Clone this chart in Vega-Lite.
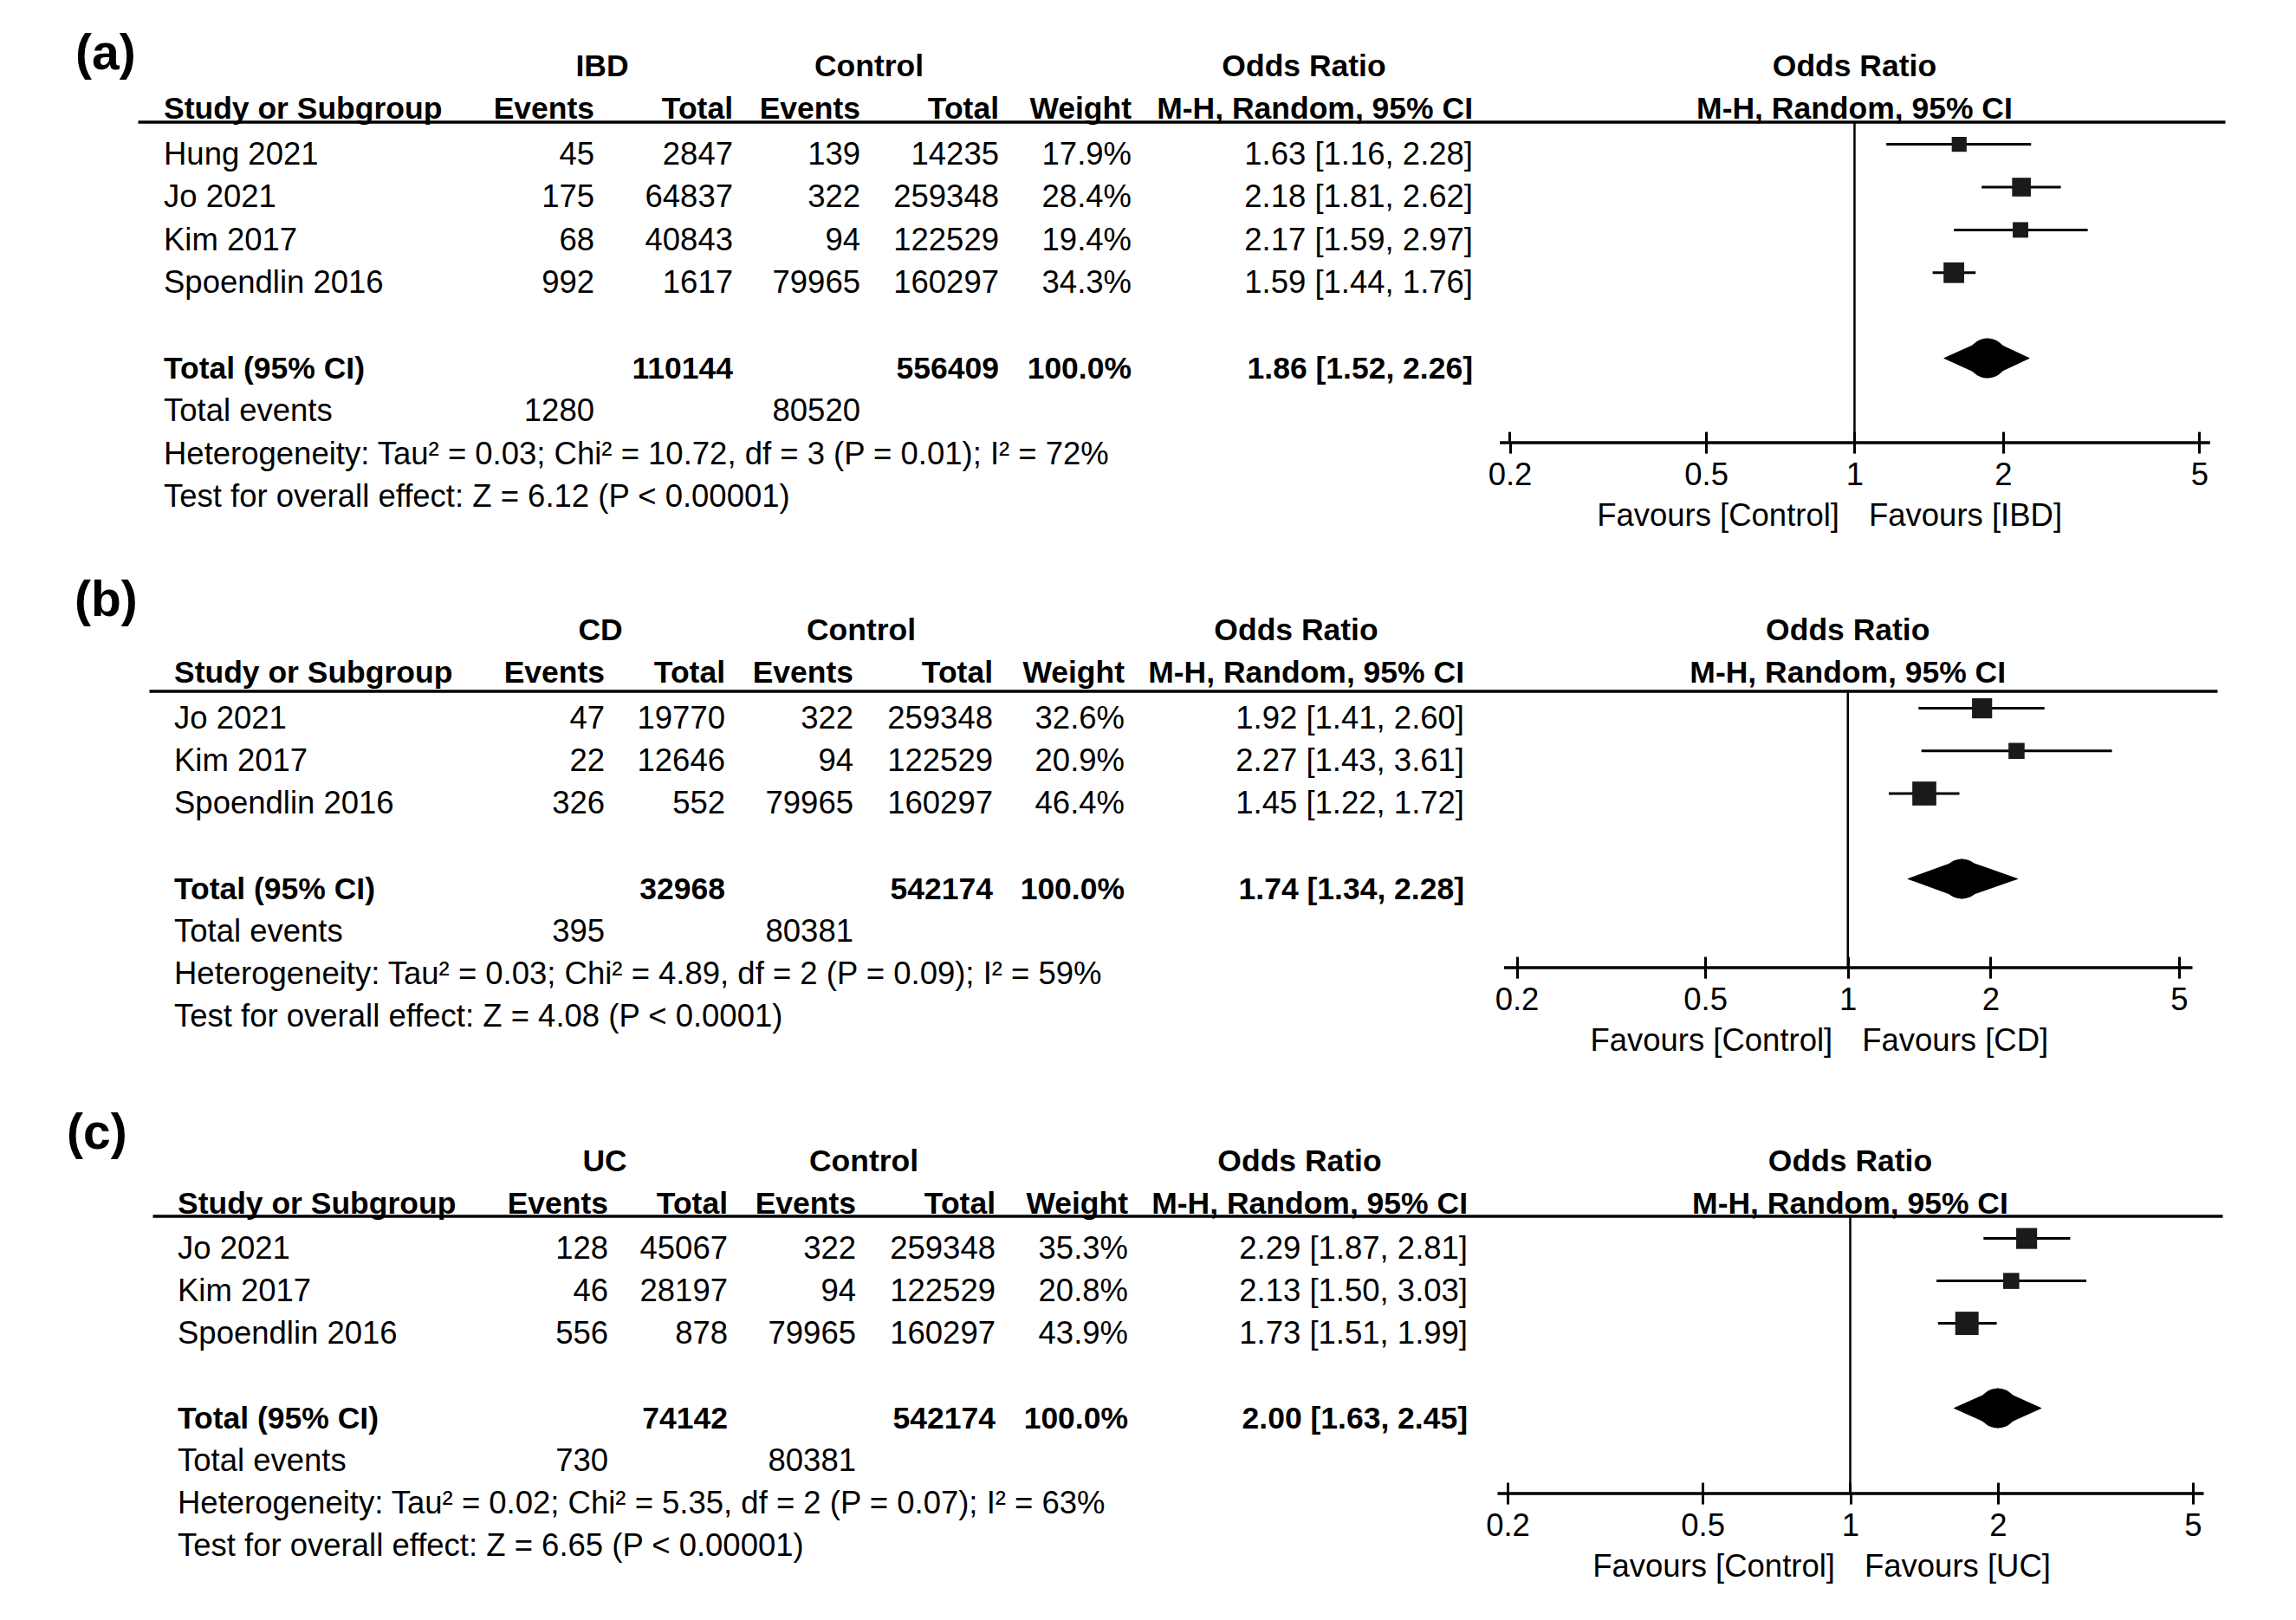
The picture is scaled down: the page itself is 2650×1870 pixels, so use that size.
{
"$schema":"https://vega.github.io/schema/vega-lite/v6.json",
"background":"white",
"padding":{"left":77,"top":33.6,"right":10,"bottom":10},
"autosize":{"type":"pad"},
"spacing":287,
"bounds":"flush",
"config":{"view":{"stroke":null},"mark":{"color":"black"},"text":{"font":"Liberation Sans","fontSize":36.5,"color":"black"},"axis":{"labelFont":"Liberation Sans","titleFont":"Liberation Sans","labelFontSize":36.5,"titleFontSize":36.5,"labelColor":"black","titleColor":"black","titleFontWeight":"normal"}},
"datasets":{
"studies":[
{"panel":"(a)","study":"Hung 2021","e1":45,"n1":2847,"e2":139,"n2":14235,"w":0.179,"ci":"1.63 [1.16, 2.28]","or":1.63,"lo":1.16,"hi":2.28},
{"panel":"(a)","study":"Jo 2021","e1":175,"n1":64837,"e2":322,"n2":259348,"w":0.284,"ci":"2.18 [1.81, 2.62]","or":2.18,"lo":1.81,"hi":2.62},
{"panel":"(a)","study":"Kim 2017","e1":68,"n1":40843,"e2":94,"n2":122529,"w":0.194,"ci":"2.17 [1.59, 2.97]","or":2.17,"lo":1.59,"hi":2.97},
{"panel":"(a)","study":"Spoendlin 2016","e1":992,"n1":1617,"e2":79965,"n2":160297,"w":0.343,"ci":"1.59 [1.44, 1.76]","or":1.59,"lo":1.44,"hi":1.76},
{"panel":"(b)","study":"Jo 2021","e1":47,"n1":19770,"e2":322,"n2":259348,"w":0.326,"ci":"1.92 [1.41, 2.60]","or":1.92,"lo":1.41,"hi":2.60},
{"panel":"(b)","study":"Kim 2017","e1":22,"n1":12646,"e2":94,"n2":122529,"w":0.209,"ci":"2.27 [1.43, 3.61]","or":2.27,"lo":1.43,"hi":3.61},
{"panel":"(b)","study":"Spoendlin 2016","e1":326,"n1":552,"e2":79965,"n2":160297,"w":0.464,"ci":"1.45 [1.22, 1.72]","or":1.45,"lo":1.22,"hi":1.72},
{"panel":"(c)","study":"Jo 2021","e1":128,"n1":45067,"e2":322,"n2":259348,"w":0.353,"ci":"2.29 [1.87, 2.81]","or":2.29,"lo":1.87,"hi":2.81},
{"panel":"(c)","study":"Kim 2017","e1":46,"n1":28197,"e2":94,"n2":122529,"w":0.208,"ci":"2.13 [1.50, 3.03]","or":2.13,"lo":1.50,"hi":3.03},
{"panel":"(c)","study":"Spoendlin 2016","e1":556,"n1":878,"e2":79965,"n2":160297,"w":0.439,"ci":"1.73 [1.51, 1.99]","or":1.73,"lo":1.51,"hi":1.99}
],
"totals":[
{"panel":"(a)","group":"IBD","n1":110144,"n2":556409,"w":1.0,"ci":"1.86 [1.52, 2.26]","or":1.86,"lo":1.52,"hi":2.26,"te1":1280,"te2":80520,"het":"Heterogeneity: Tau² = 0.03; Chi² = 10.72, df = 3 (P = 0.01); I² = 72%","test":"Test for overall effect: Z = 6.12 (P < 0.00001)"},
{"panel":"(b)","group":"CD","n1":32968,"n2":542174,"w":1.0,"ci":"1.74 [1.34, 2.28]","or":1.74,"lo":1.34,"hi":2.28,"te1":395,"te2":80381,"het":"Heterogeneity: Tau² = 0.03; Chi² = 4.89, df = 2 (P = 0.09); I² = 59%","test":"Test for overall effect: Z = 4.08 (P < 0.0001)"},
{"panel":"(c)","group":"UC","n1":74142,"n2":542174,"w":1.0,"ci":"2.00 [1.63, 2.45]","or":2.00,"lo":1.63,"hi":2.45,"te1":730,"te2":80381,"het":"Heterogeneity: Tau² = 0.02; Chi² = 5.35, df = 2 (P = 0.07); I² = 63%","test":"Test for overall effect: Z = 6.65 (P < 0.00001)"}
]
},
"vconcat":[
{
"width":2409,"height":370,
"data":{"name":"totals"},
"transform":[{"filter":"datum.panel === '(a)'"}],
"resolve":{"scale":{"x":"independent"}},
"layer":[
{"layer":[
{"mark":{"type":"text","align":"left","fontWeight":"bold","fontSize":57,"dy":-4.8},"encoding":{"x":{"datum":87,"type":"quantitative","scale":{"domain":[159,2568],"range":[0,2409],"nice":false,"zero":false},"axis":{"orient":"top","domain":true,"domainWidth":3.5,"domainColor":"black","ticks":false,"labels":false,"grid":false,"title":null}},"y":{"datum":"group","type":"nominal","axis":null},"text":{"field":"panel"}}},
{"mark":{"type":"text","align":"center","fontWeight":"bold","fontSize":35.5,"dy":9},"encoding":{"x":{"datum":695,"type":"quantitative"},"y":{"datum":"group","type":"nominal","axis":null},"text":{"field":"group"}}},
{"mark":{"type":"text","align":"center","fontWeight":"bold","fontSize":35.5,"dy":9},"encoding":{"x":{"datum":1003,"type":"quantitative"},"y":{"datum":"group","type":"nominal","axis":null},"text":{"value":"Control"}}},
{"mark":{"type":"text","align":"center","fontWeight":"bold","fontSize":35.5,"dy":9},"encoding":{"x":{"datum":1505,"type":"quantitative"},"y":{"datum":"group","type":"nominal","axis":null},"text":{"value":"Odds Ratio"}}},
{"mark":{"type":"text","align":"left","fontWeight":"bold","fontSize":35.5,"dy":9},"encoding":{"x":{"datum":189,"type":"quantitative"},"y":{"datum":"columns","type":"nominal","axis":null},"text":{"value":"Study or Subgroup"}}},
{"mark":{"type":"text","align":"right","fontWeight":"bold","fontSize":35.5,"dy":9},"encoding":{"x":{"datum":686,"type":"quantitative"},"y":{"datum":"columns","type":"nominal","axis":null},"text":{"value":"Events"}}},
{"mark":{"type":"text","align":"right","fontWeight":"bold","fontSize":35.5,"dy":9},"encoding":{"x":{"datum":846,"type":"quantitative"},"y":{"datum":"columns","type":"nominal","axis":null},"text":{"value":"Total"}}},
{"mark":{"type":"text","align":"right","fontWeight":"bold","fontSize":35.5,"dy":9},"encoding":{"x":{"datum":993,"type":"quantitative"},"y":{"datum":"columns","type":"nominal","axis":null},"text":{"value":"Events"}}},
{"mark":{"type":"text","align":"right","fontWeight":"bold","fontSize":35.5,"dy":9},"encoding":{"x":{"datum":1153,"type":"quantitative"},"y":{"datum":"columns","type":"nominal","axis":null},"text":{"value":"Total"}}},
{"mark":{"type":"text","align":"right","fontWeight":"bold","fontSize":35.5,"dy":9},"encoding":{"x":{"datum":1306,"type":"quantitative"},"y":{"datum":"columns","type":"nominal","axis":null},"text":{"value":"Weight"}}},
{"mark":{"type":"text","align":"right","fontWeight":"bold","fontSize":35.5,"dy":9},"encoding":{"x":{"datum":1700,"type":"quantitative"},"y":{"datum":"columns","type":"nominal","axis":null},"text":{"value":"M-H, Random, 95% CI"}}},
{"data":{"name":"studies"},"transform":[{"filter":"datum.panel === '(a)'"}],"layer":[
{"mark":{"type":"text","align":"left","dy":12.5},"encoding":{"x":{"datum":189,"type":"quantitative"},"y":{"field":"study","type":"nominal","scale":{"type":"point","domain":["group","columns","Hung 2021","Jo 2021","Kim 2017","Spoendlin 2016","blank","Total (95% CI)","Total events","Heterogeneity","Test"],"range":[-72.8,421.2],"padding":0},"axis":null},"text":{"field":"study"}}},
{"mark":{"type":"text","align":"right","dy":12.5},"encoding":{"x":{"datum":686,"type":"quantitative"},"y":{"field":"study","type":"nominal","axis":null},"text":{"field":"e1","type":"quantitative","format":"d"}}},
{"mark":{"type":"text","align":"right","dy":12.5},"encoding":{"x":{"datum":846,"type":"quantitative"},"y":{"field":"study","type":"nominal","axis":null},"text":{"field":"n1","type":"quantitative","format":"d"}}},
{"mark":{"type":"text","align":"right","dy":12.5},"encoding":{"x":{"datum":993,"type":"quantitative"},"y":{"field":"study","type":"nominal","axis":null},"text":{"field":"e2","type":"quantitative","format":"d"}}},
{"mark":{"type":"text","align":"right","dy":12.5},"encoding":{"x":{"datum":1153,"type":"quantitative"},"y":{"field":"study","type":"nominal","axis":null},"text":{"field":"n2","type":"quantitative","format":"d"}}},
{"mark":{"type":"text","align":"right","dy":12.5},"encoding":{"x":{"datum":1306,"type":"quantitative"},"y":{"field":"study","type":"nominal","axis":null},"text":{"field":"w","type":"quantitative","format":".1%"}}},
{"mark":{"type":"text","align":"right","dy":12.5},"encoding":{"x":{"datum":1700,"type":"quantitative"},"y":{"field":"study","type":"nominal","axis":null},"text":{"field":"ci"}}}
]},
{"mark":{"type":"text","align":"left","fontWeight":"bold","fontSize":35.5,"dy":12.5},"encoding":{"x":{"datum":189,"type":"quantitative"},"y":{"datum":"Total (95% CI)","type":"nominal","axis":null},"text":{"value":"Total (95% CI)"}}},
{"mark":{"type":"text","align":"right","fontWeight":"bold","fontSize":35.5,"dy":12.5},"encoding":{"x":{"datum":846,"type":"quantitative"},"y":{"datum":"Total (95% CI)","type":"nominal","axis":null},"text":{"field":"n1","type":"quantitative","format":"d"}}},
{"mark":{"type":"text","align":"right","fontWeight":"bold","fontSize":35.5,"dy":12.5},"encoding":{"x":{"datum":1153,"type":"quantitative"},"y":{"datum":"Total (95% CI)","type":"nominal","axis":null},"text":{"field":"n2","type":"quantitative","format":"d"}}},
{"mark":{"type":"text","align":"right","fontWeight":"bold","fontSize":35.5,"dy":12.5},"encoding":{"x":{"datum":1306,"type":"quantitative"},"y":{"datum":"Total (95% CI)","type":"nominal","axis":null},"text":{"field":"w","type":"quantitative","format":".1%"}}},
{"mark":{"type":"text","align":"right","fontWeight":"bold","fontSize":35.5,"dy":12.5},"encoding":{"x":{"datum":1700,"type":"quantitative"},"y":{"datum":"Total (95% CI)","type":"nominal","axis":null},"text":{"field":"ci"}}},
{"mark":{"type":"text","align":"left","dy":12.5},"encoding":{"x":{"datum":189,"type":"quantitative"},"y":{"datum":"Total events","type":"nominal","axis":null},"text":{"value":"Total events"}}},
{"mark":{"type":"text","align":"right","dy":12.5},"encoding":{"x":{"datum":686,"type":"quantitative"},"y":{"datum":"Total events","type":"nominal","axis":null},"text":{"field":"te1","type":"quantitative","format":"d"}}},
{"mark":{"type":"text","align":"right","dy":12.5},"encoding":{"x":{"datum":993,"type":"quantitative"},"y":{"datum":"Total events","type":"nominal","axis":null},"text":{"field":"te2","type":"quantitative","format":"d"}}},
{"mark":{"type":"text","align":"left","dy":12.5},"encoding":{"x":{"datum":189,"type":"quantitative"},"y":{"datum":"Heterogeneity","type":"nominal","axis":null},"text":{"field":"het"}}},
{"mark":{"type":"text","align":"left","dy":12.5},"encoding":{"x":{"datum":189,"type":"quantitative"},"y":{"datum":"Test","type":"nominal","axis":null},"text":{"field":"test"}}}
]},
{"resolve":{"scale":{"size":"independent"}},"layer":[
{"mark":{"type":"text","align":"center","fontWeight":"bold","fontSize":35.5,"dy":9},"encoding":{"x":{"datum":1,"type":"quantitative","scale":{"type":"log","domain":[0.2,5],"range":[1583.5,2379.4],"nice":false},"axis":{"orient":"bottom","values":[0.2,0.5,1,2,5],"format":"~g","domain":false,"ticks":true,"tickSize":12.5,"tickWidth":3,"tickColor":"black","labels":true,"labelPadding":25.5,"labelBaseline":"middle","labelFlush":false,"labelOverlap":false,"labelBound":false,"grid":false,"title":"Favours [Control]","titleX":1963.5,"titleAlign":"right","titleBaseline":"middle","titleY":85}},"y":{"datum":"group","type":"nominal","axis":null},"text":{"value":"Odds Ratio"}}},
{"mark":{"type":"text","align":"center","fontWeight":"bold","fontSize":35.5,"dy":9},"encoding":{"x":{"datum":1,"type":"quantitative"},"y":{"datum":"columns","type":"nominal","axis":null},"text":{"value":"M-H, Random, 95% CI"}}},
{"data":{"name":"studies"},"transform":[{"filter":"datum.panel === '(a)'"}],"layer":[
{"mark":{"type":"rule","strokeWidth":3,"color":"black"},"encoding":{"x":{"field":"lo","type":"quantitative"},"x2":{"field":"hi"},"y":{"field":"study","type":"nominal","axis":null}}},
{"mark":{"type":"point","shape":"square","filled":true,"color":"#1a1a1a","opacity":1},"encoding":{"x":{"field":"or","type":"quantitative"},"y":{"field":"study","type":"nominal","axis":null},"size":{"field":"w","type":"quantitative","scale":{"domain":[0,1],"range":[0,1650],"zero":true},"legend":null}}}
]},
{"transform":[{"fold":["lo","or"],"as":["k","v"]}],"mark":{"type":"trail","color":"black"},"encoding":{"x":{"field":"v","type":"quantitative"},"y":{"datum":"Total (95% CI)","type":"nominal","axis":null},"size":{"field":"k","type":"ordinal","scale":{"type":"point","domain":["lo","or"],"range":[0,46],"padding":0},"legend":null}}},
{"transform":[{"fold":["hi","or"],"as":["k","v"]}],"mark":{"type":"trail","color":"black"},"encoding":{"x":{"field":"v","type":"quantitative"},"y":{"datum":"Total (95% CI)","type":"nominal","axis":null},"size":{"field":"k","type":"ordinal","scale":{"type":"point","domain":["hi","or"],"range":[0,46],"padding":0},"legend":null}}}
]},
{"mark":{"type":"rule","strokeWidth":2.5,"color":"black"},"encoding":{"x":{"datum":1,"type":"quantitative","scale":{"type":"log","domain":[0.190527,5.2486],"range":[1571.5,2391.4],"nice":false},"axis":{"orient":"bottom","values":[0.2,0.5,1,2,5],"domain":true,"domainWidth":3.5,"domainColor":"black","ticks":true,"tickSize":-12.5,"tickWidth":3,"tickColor":"black","labels":false,"grid":false,"title":"Favours [IBD]","titleX":1997.5,"titleAlign":"left","titleBaseline":"middle","titleY":85}}}}
]
},
{
"width":2409,"height":319,
"data":{"name":"totals"},
"transform":[{"filter":"datum.panel === '(b)'"}],
"resolve":{"scale":{"x":"independent"}},
"layer":[
{"layer":[
{"mark":{"type":"text","align":"left","fontWeight":"bold","fontSize":57,"dy":-25.1},"encoding":{"x":{"datum":86,"type":"quantitative","scale":{"domain":[172,2559],"range":[13,2400],"nice":false,"zero":false},"axis":{"orient":"top","domain":true,"domainWidth":3.5,"domainColor":"black","ticks":false,"labels":false,"grid":false,"title":null}},"y":{"datum":"group","type":"nominal","axis":null},"text":{"field":"panel"}}},
{"mark":{"type":"text","align":"center","fontWeight":"bold","fontSize":35.5,"dy":9},"encoding":{"x":{"datum":693,"type":"quantitative"},"y":{"datum":"group","type":"nominal","axis":null},"text":{"field":"group"}}},
{"mark":{"type":"text","align":"center","fontWeight":"bold","fontSize":35.5,"dy":9},"encoding":{"x":{"datum":994,"type":"quantitative"},"y":{"datum":"group","type":"nominal","axis":null},"text":{"value":"Control"}}},
{"mark":{"type":"text","align":"center","fontWeight":"bold","fontSize":35.5,"dy":9},"encoding":{"x":{"datum":1496,"type":"quantitative"},"y":{"datum":"group","type":"nominal","axis":null},"text":{"value":"Odds Ratio"}}},
{"mark":{"type":"text","align":"left","fontWeight":"bold","fontSize":35.5,"dy":9},"encoding":{"x":{"datum":201,"type":"quantitative"},"y":{"datum":"columns","type":"nominal","axis":null},"text":{"value":"Study or Subgroup"}}},
{"mark":{"type":"text","align":"right","fontWeight":"bold","fontSize":35.5,"dy":9},"encoding":{"x":{"datum":698,"type":"quantitative"},"y":{"datum":"columns","type":"nominal","axis":null},"text":{"value":"Events"}}},
{"mark":{"type":"text","align":"right","fontWeight":"bold","fontSize":35.5,"dy":9},"encoding":{"x":{"datum":837,"type":"quantitative"},"y":{"datum":"columns","type":"nominal","axis":null},"text":{"value":"Total"}}},
{"mark":{"type":"text","align":"right","fontWeight":"bold","fontSize":35.5,"dy":9},"encoding":{"x":{"datum":985,"type":"quantitative"},"y":{"datum":"columns","type":"nominal","axis":null},"text":{"value":"Events"}}},
{"mark":{"type":"text","align":"right","fontWeight":"bold","fontSize":35.5,"dy":9},"encoding":{"x":{"datum":1146,"type":"quantitative"},"y":{"datum":"columns","type":"nominal","axis":null},"text":{"value":"Total"}}},
{"mark":{"type":"text","align":"right","fontWeight":"bold","fontSize":35.5,"dy":9},"encoding":{"x":{"datum":1298,"type":"quantitative"},"y":{"datum":"columns","type":"nominal","axis":null},"text":{"value":"Weight"}}},
{"mark":{"type":"text","align":"right","fontWeight":"bold","fontSize":35.5,"dy":9},"encoding":{"x":{"datum":1690,"type":"quantitative"},"y":{"datum":"columns","type":"nominal","axis":null},"text":{"value":"M-H, Random, 95% CI"}}},
{"data":{"name":"studies"},"transform":[{"filter":"datum.panel === '(b)'"}],"layer":[
{"mark":{"type":"text","align":"left","dy":12.5},"encoding":{"x":{"datum":201,"type":"quantitative"},"y":{"field":"study","type":"nominal","scale":{"type":"point","domain":["group","columns","Jo 2021","Kim 2017","Spoendlin 2016","blank","Total (95% CI)","Total events","Heterogeneity","Test"],"range":[-78.4,364.4],"padding":0},"axis":null},"text":{"field":"study"}}},
{"mark":{"type":"text","align":"right","dy":12.5},"encoding":{"x":{"datum":698,"type":"quantitative"},"y":{"field":"study","type":"nominal","axis":null},"text":{"field":"e1","type":"quantitative","format":"d"}}},
{"mark":{"type":"text","align":"right","dy":12.5},"encoding":{"x":{"datum":837,"type":"quantitative"},"y":{"field":"study","type":"nominal","axis":null},"text":{"field":"n1","type":"quantitative","format":"d"}}},
{"mark":{"type":"text","align":"right","dy":12.5},"encoding":{"x":{"datum":985,"type":"quantitative"},"y":{"field":"study","type":"nominal","axis":null},"text":{"field":"e2","type":"quantitative","format":"d"}}},
{"mark":{"type":"text","align":"right","dy":12.5},"encoding":{"x":{"datum":1146,"type":"quantitative"},"y":{"field":"study","type":"nominal","axis":null},"text":{"field":"n2","type":"quantitative","format":"d"}}},
{"mark":{"type":"text","align":"right","dy":12.5},"encoding":{"x":{"datum":1298,"type":"quantitative"},"y":{"field":"study","type":"nominal","axis":null},"text":{"field":"w","type":"quantitative","format":".1%"}}},
{"mark":{"type":"text","align":"right","dy":12.5},"encoding":{"x":{"datum":1690,"type":"quantitative"},"y":{"field":"study","type":"nominal","axis":null},"text":{"field":"ci"}}}
]},
{"mark":{"type":"text","align":"left","fontWeight":"bold","fontSize":35.5,"dy":12.5},"encoding":{"x":{"datum":201,"type":"quantitative"},"y":{"datum":"Total (95% CI)","type":"nominal","axis":null},"text":{"value":"Total (95% CI)"}}},
{"mark":{"type":"text","align":"right","fontWeight":"bold","fontSize":35.5,"dy":12.5},"encoding":{"x":{"datum":837,"type":"quantitative"},"y":{"datum":"Total (95% CI)","type":"nominal","axis":null},"text":{"field":"n1","type":"quantitative","format":"d"}}},
{"mark":{"type":"text","align":"right","fontWeight":"bold","fontSize":35.5,"dy":12.5},"encoding":{"x":{"datum":1146,"type":"quantitative"},"y":{"datum":"Total (95% CI)","type":"nominal","axis":null},"text":{"field":"n2","type":"quantitative","format":"d"}}},
{"mark":{"type":"text","align":"right","fontWeight":"bold","fontSize":35.5,"dy":12.5},"encoding":{"x":{"datum":1298,"type":"quantitative"},"y":{"datum":"Total (95% CI)","type":"nominal","axis":null},"text":{"field":"w","type":"quantitative","format":".1%"}}},
{"mark":{"type":"text","align":"right","fontWeight":"bold","fontSize":35.5,"dy":12.5},"encoding":{"x":{"datum":1690,"type":"quantitative"},"y":{"datum":"Total (95% CI)","type":"nominal","axis":null},"text":{"field":"ci"}}},
{"mark":{"type":"text","align":"left","dy":12.5},"encoding":{"x":{"datum":201,"type":"quantitative"},"y":{"datum":"Total events","type":"nominal","axis":null},"text":{"value":"Total events"}}},
{"mark":{"type":"text","align":"right","dy":12.5},"encoding":{"x":{"datum":698,"type":"quantitative"},"y":{"datum":"Total events","type":"nominal","axis":null},"text":{"field":"te1","type":"quantitative","format":"d"}}},
{"mark":{"type":"text","align":"right","dy":12.5},"encoding":{"x":{"datum":985,"type":"quantitative"},"y":{"datum":"Total events","type":"nominal","axis":null},"text":{"field":"te2","type":"quantitative","format":"d"}}},
{"mark":{"type":"text","align":"left","dy":12.5},"encoding":{"x":{"datum":201,"type":"quantitative"},"y":{"datum":"Heterogeneity","type":"nominal","axis":null},"text":{"field":"het"}}},
{"mark":{"type":"text","align":"left","dy":12.5},"encoding":{"x":{"datum":201,"type":"quantitative"},"y":{"datum":"Test","type":"nominal","axis":null},"text":{"field":"test"}}}
]},
{"resolve":{"scale":{"size":"independent"}},"layer":[
{"mark":{"type":"text","align":"center","fontWeight":"bold","fontSize":35.5,"dy":9},"encoding":{"x":{"datum":1,"type":"quantitative","scale":{"type":"log","domain":[0.2,5],"range":[1591.5,2356],"nice":false},"axis":{"orient":"bottom","values":[0.2,0.5,1,2,5],"format":"~g","domain":false,"ticks":true,"tickSize":12.5,"tickWidth":3,"tickColor":"black","labels":true,"labelPadding":25.5,"labelBaseline":"middle","labelFlush":false,"labelOverlap":false,"labelBound":false,"grid":false,"title":"Favours [Control]","titleX":1955.75,"titleAlign":"right","titleBaseline":"middle","titleY":85}},"y":{"datum":"group","type":"nominal","axis":null},"text":{"value":"Odds Ratio"}}},
{"mark":{"type":"text","align":"center","fontWeight":"bold","fontSize":35.5,"dy":9},"encoding":{"x":{"datum":1,"type":"quantitative"},"y":{"datum":"columns","type":"nominal","axis":null},"text":{"value":"M-H, Random, 95% CI"}}},
{"data":{"name":"studies"},"transform":[{"filter":"datum.panel === '(b)'"}],"layer":[
{"mark":{"type":"rule","strokeWidth":3,"color":"black"},"encoding":{"x":{"field":"lo","type":"quantitative"},"x2":{"field":"hi"},"y":{"field":"study","type":"nominal","axis":null}}},
{"mark":{"type":"point","shape":"square","filled":true,"color":"#1a1a1a","opacity":1},"encoding":{"x":{"field":"or","type":"quantitative"},"y":{"field":"study","type":"nominal","axis":null},"size":{"field":"w","type":"quantitative","scale":{"domain":[0,1],"range":[0,1650],"zero":true},"legend":null}}}
]},
{"transform":[{"fold":["lo","or"],"as":["k","v"]}],"mark":{"type":"trail","color":"black"},"encoding":{"x":{"field":"v","type":"quantitative"},"y":{"datum":"Total (95% CI)","type":"nominal","axis":null},"size":{"field":"k","type":"ordinal","scale":{"type":"point","domain":["lo","or"],"range":[0,46],"padding":0},"legend":null}}},
{"transform":[{"fold":["hi","or"],"as":["k","v"]}],"mark":{"type":"trail","color":"black"},"encoding":{"x":{"field":"v","type":"quantitative"},"y":{"datum":"Total (95% CI)","type":"nominal","axis":null},"size":{"field":"k","type":"ordinal","scale":{"type":"point","domain":["hi","or"],"range":[0,46],"padding":0},"legend":null}}}
]},
{"mark":{"type":"rule","strokeWidth":2.5,"color":"black"},"encoding":{"x":{"datum":1,"type":"quantitative","scale":{"type":"log","domain":[0.187758,5.326],"range":[1576.5,2371],"nice":false},"axis":{"orient":"bottom","values":[0.2,0.5,1,2,5],"domain":true,"domainWidth":3.5,"domainColor":"black","ticks":true,"tickSize":-12.5,"tickWidth":3,"tickColor":"black","labels":false,"grid":false,"title":"Favours [CD]","titleX":1989.75,"titleAlign":"left","titleBaseline":"middle","titleY":85}}}}
]
},
{
"width":2409,"height":320,
"data":{"name":"totals"},
"transform":[{"filter":"datum.panel === '(c)'"}],
"resolve":{"scale":{"x":"independent"}},
"layer":[
{"layer":[
{"mark":{"type":"text","align":"left","fontWeight":"bold","fontSize":57,"dy":-22.8},"encoding":{"x":{"datum":77,"type":"quantitative","scale":{"domain":[176,2565],"range":[17,2406],"nice":false,"zero":false},"axis":{"orient":"top","domain":true,"domainWidth":3.5,"domainColor":"black","ticks":false,"labels":false,"grid":false,"title":null}},"y":{"datum":"group","type":"nominal","axis":null},"text":{"field":"panel"}}},
{"mark":{"type":"text","align":"center","fontWeight":"bold","fontSize":35.5,"dy":9},"encoding":{"x":{"datum":698,"type":"quantitative"},"y":{"datum":"group","type":"nominal","axis":null},"text":{"field":"group"}}},
{"mark":{"type":"text","align":"center","fontWeight":"bold","fontSize":35.5,"dy":9},"encoding":{"x":{"datum":997,"type":"quantitative"},"y":{"datum":"group","type":"nominal","axis":null},"text":{"value":"Control"}}},
{"mark":{"type":"text","align":"center","fontWeight":"bold","fontSize":35.5,"dy":9},"encoding":{"x":{"datum":1500,"type":"quantitative"},"y":{"datum":"group","type":"nominal","axis":null},"text":{"value":"Odds Ratio"}}},
{"mark":{"type":"text","align":"left","fontWeight":"bold","fontSize":35.5,"dy":9},"encoding":{"x":{"datum":205,"type":"quantitative"},"y":{"datum":"columns","type":"nominal","axis":null},"text":{"value":"Study or Subgroup"}}},
{"mark":{"type":"text","align":"right","fontWeight":"bold","fontSize":35.5,"dy":9},"encoding":{"x":{"datum":702,"type":"quantitative"},"y":{"datum":"columns","type":"nominal","axis":null},"text":{"value":"Events"}}},
{"mark":{"type":"text","align":"right","fontWeight":"bold","fontSize":35.5,"dy":9},"encoding":{"x":{"datum":840,"type":"quantitative"},"y":{"datum":"columns","type":"nominal","axis":null},"text":{"value":"Total"}}},
{"mark":{"type":"text","align":"right","fontWeight":"bold","fontSize":35.5,"dy":9},"encoding":{"x":{"datum":988,"type":"quantitative"},"y":{"datum":"columns","type":"nominal","axis":null},"text":{"value":"Events"}}},
{"mark":{"type":"text","align":"right","fontWeight":"bold","fontSize":35.5,"dy":9},"encoding":{"x":{"datum":1149,"type":"quantitative"},"y":{"datum":"columns","type":"nominal","axis":null},"text":{"value":"Total"}}},
{"mark":{"type":"text","align":"right","fontWeight":"bold","fontSize":35.5,"dy":9},"encoding":{"x":{"datum":1302,"type":"quantitative"},"y":{"datum":"columns","type":"nominal","axis":null},"text":{"value":"Weight"}}},
{"mark":{"type":"text","align":"right","fontWeight":"bold","fontSize":35.5,"dy":9},"encoding":{"x":{"datum":1694,"type":"quantitative"},"y":{"datum":"columns","type":"nominal","axis":null},"text":{"value":"M-H, Random, 95% CI"}}},
{"data":{"name":"studies"},"transform":[{"filter":"datum.panel === '(c)'"}],"layer":[
{"mark":{"type":"text","align":"left","dy":12.5},"encoding":{"x":{"datum":205,"type":"quantitative"},"y":{"field":"study","type":"nominal","scale":{"type":"point","domain":["group","columns","Jo 2021","Kim 2017","Spoendlin 2016","blank","Total (95% CI)","Total events","Heterogeneity","Test"],"range":[-72,369],"padding":0},"axis":null},"text":{"field":"study"}}},
{"mark":{"type":"text","align":"right","dy":12.5},"encoding":{"x":{"datum":702,"type":"quantitative"},"y":{"field":"study","type":"nominal","axis":null},"text":{"field":"e1","type":"quantitative","format":"d"}}},
{"mark":{"type":"text","align":"right","dy":12.5},"encoding":{"x":{"datum":840,"type":"quantitative"},"y":{"field":"study","type":"nominal","axis":null},"text":{"field":"n1","type":"quantitative","format":"d"}}},
{"mark":{"type":"text","align":"right","dy":12.5},"encoding":{"x":{"datum":988,"type":"quantitative"},"y":{"field":"study","type":"nominal","axis":null},"text":{"field":"e2","type":"quantitative","format":"d"}}},
{"mark":{"type":"text","align":"right","dy":12.5},"encoding":{"x":{"datum":1149,"type":"quantitative"},"y":{"field":"study","type":"nominal","axis":null},"text":{"field":"n2","type":"quantitative","format":"d"}}},
{"mark":{"type":"text","align":"right","dy":12.5},"encoding":{"x":{"datum":1302,"type":"quantitative"},"y":{"field":"study","type":"nominal","axis":null},"text":{"field":"w","type":"quantitative","format":".1%"}}},
{"mark":{"type":"text","align":"right","dy":12.5},"encoding":{"x":{"datum":1694,"type":"quantitative"},"y":{"field":"study","type":"nominal","axis":null},"text":{"field":"ci"}}}
]},
{"mark":{"type":"text","align":"left","fontWeight":"bold","fontSize":35.5,"dy":12.5},"encoding":{"x":{"datum":205,"type":"quantitative"},"y":{"datum":"Total (95% CI)","type":"nominal","axis":null},"text":{"value":"Total (95% CI)"}}},
{"mark":{"type":"text","align":"right","fontWeight":"bold","fontSize":35.5,"dy":12.5},"encoding":{"x":{"datum":840,"type":"quantitative"},"y":{"datum":"Total (95% CI)","type":"nominal","axis":null},"text":{"field":"n1","type":"quantitative","format":"d"}}},
{"mark":{"type":"text","align":"right","fontWeight":"bold","fontSize":35.5,"dy":12.5},"encoding":{"x":{"datum":1149,"type":"quantitative"},"y":{"datum":"Total (95% CI)","type":"nominal","axis":null},"text":{"field":"n2","type":"quantitative","format":"d"}}},
{"mark":{"type":"text","align":"right","fontWeight":"bold","fontSize":35.5,"dy":12.5},"encoding":{"x":{"datum":1302,"type":"quantitative"},"y":{"datum":"Total (95% CI)","type":"nominal","axis":null},"text":{"field":"w","type":"quantitative","format":".1%"}}},
{"mark":{"type":"text","align":"right","fontWeight":"bold","fontSize":35.5,"dy":12.5},"encoding":{"x":{"datum":1694,"type":"quantitative"},"y":{"datum":"Total (95% CI)","type":"nominal","axis":null},"text":{"field":"ci"}}},
{"mark":{"type":"text","align":"left","dy":12.5},"encoding":{"x":{"datum":205,"type":"quantitative"},"y":{"datum":"Total events","type":"nominal","axis":null},"text":{"value":"Total events"}}},
{"mark":{"type":"text","align":"right","dy":12.5},"encoding":{"x":{"datum":702,"type":"quantitative"},"y":{"datum":"Total events","type":"nominal","axis":null},"text":{"field":"te1","type":"quantitative","format":"d"}}},
{"mark":{"type":"text","align":"right","dy":12.5},"encoding":{"x":{"datum":988,"type":"quantitative"},"y":{"datum":"Total events","type":"nominal","axis":null},"text":{"field":"te2","type":"quantitative","format":"d"}}},
{"mark":{"type":"text","align":"left","dy":12.5},"encoding":{"x":{"datum":205,"type":"quantitative"},"y":{"datum":"Heterogeneity","type":"nominal","axis":null},"text":{"field":"het"}}},
{"mark":{"type":"text","align":"left","dy":12.5},"encoding":{"x":{"datum":205,"type":"quantitative"},"y":{"datum":"Test","type":"nominal","axis":null},"text":{"field":"test"}}}
]},
{"resolve":{"scale":{"size":"independent"}},"layer":[
{"mark":{"type":"text","align":"center","fontWeight":"bold","fontSize":35.5,"dy":9},"encoding":{"x":{"datum":1,"type":"quantitative","scale":{"type":"log","domain":[0.2,5],"range":[1581,2372],"nice":false},"axis":{"orient":"bottom","values":[0.2,0.5,1,2,5],"format":"~g","domain":false,"ticks":true,"tickSize":12.5,"tickWidth":3,"tickColor":"black","labels":true,"labelPadding":25.5,"labelBaseline":"middle","labelFlush":false,"labelOverlap":false,"labelBound":false,"grid":false,"title":"Favours [Control]","titleX":1958.5,"titleAlign":"right","titleBaseline":"middle","titleY":85}},"y":{"datum":"group","type":"nominal","axis":null},"text":{"value":"Odds Ratio"}}},
{"mark":{"type":"text","align":"center","fontWeight":"bold","fontSize":35.5,"dy":9},"encoding":{"x":{"datum":1,"type":"quantitative"},"y":{"datum":"columns","type":"nominal","axis":null},"text":{"value":"M-H, Random, 95% CI"}}},
{"data":{"name":"studies"},"transform":[{"filter":"datum.panel === '(c)'"}],"layer":[
{"mark":{"type":"rule","strokeWidth":3,"color":"black"},"encoding":{"x":{"field":"lo","type":"quantitative"},"x2":{"field":"hi"},"y":{"field":"study","type":"nominal","axis":null}}},
{"mark":{"type":"point","shape":"square","filled":true,"color":"#1a1a1a","opacity":1},"encoding":{"x":{"field":"or","type":"quantitative"},"y":{"field":"study","type":"nominal","axis":null},"size":{"field":"w","type":"quantitative","scale":{"domain":[0,1],"range":[0,1650],"zero":true},"legend":null}}}
]},
{"transform":[{"fold":["lo","or"],"as":["k","v"]}],"mark":{"type":"trail","color":"black"},"encoding":{"x":{"field":"v","type":"quantitative"},"y":{"datum":"Total (95% CI)","type":"nominal","axis":null},"size":{"field":"k","type":"ordinal","scale":{"type":"point","domain":["lo","or"],"range":[0,46],"padding":0},"legend":null}}},
{"transform":[{"fold":["hi","or"],"as":["k","v"]}],"mark":{"type":"trail","color":"black"},"encoding":{"x":{"field":"v","type":"quantitative"},"y":{"datum":"Total (95% CI)","type":"nominal","axis":null},"size":{"field":"k","type":"ordinal","scale":{"type":"point","domain":["hi","or"],"range":[0,46],"padding":0},"legend":null}}}
]},
{"mark":{"type":"rule","strokeWidth":2.5,"color":"black"},"encoding":{"x":{"datum":1,"type":"quantitative","scale":{"type":"log","domain":[0.190471,5.25015],"range":[1569,2384],"nice":false},"axis":{"orient":"bottom","values":[0.2,0.5,1,2,5],"domain":true,"domainWidth":3.5,"domainColor":"black","ticks":true,"tickSize":-12.5,"tickWidth":3,"tickColor":"black","labels":false,"grid":false,"title":"Favours [UC]","titleX":1992.5,"titleAlign":"left","titleBaseline":"middle","titleY":85}}}}
]
}
]
}
